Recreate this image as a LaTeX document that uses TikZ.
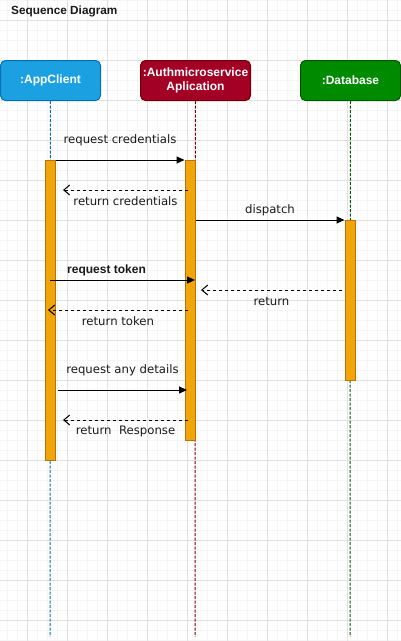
\documentclass[tikz,border=0pt]{standalone}
\usepackage{fontspec}
\setmainfont{DejaVu Sans}
\newfontfamily\helv{Liberation Sans}
\usepackage{tikz}
\usetikzlibrary{positioning,arrows.meta}
\definecolor{seqblue}{RGB}{27,161,226}
\definecolor{seqblueline}{RGB}{0,110,175}
\definecolor{seqred}{RGB}{162,0,37}
\definecolor{seqredline}{RGB}{111,0,0}
\definecolor{seqgreen}{RGB}{0,138,0}
\definecolor{seqgreenline}{RGB}{0,87,0}
\definecolor{seqorange}{RGB}{240,165,10}
\definecolor{seqorangeline}{RGB}{189,113,0}
\definecolor{gridminor}{RGB}{245,245,245}
\definecolor{gridmajor}{RGB}{224,224,224}
\definecolor{seqtext}{RGB}{26,26,26}

\begin{document}
\begin{tikzpicture}[x=1pt, y=-1pt,
    font=\fontsize{11.7}{14}\selectfont, text=seqtext,
    actor/.style={draw, rectangle, rounded corners=5pt, anchor=north west, minimum height=40pt,
        inner sep=0pt, line width=1pt, text=white, align=center,
        font=\helv\bfseries\fontsize{12}{13.7}\selectfont},
    lifeline/.style={line width=1pt, dash pattern=on 3pt off 1.5pt},
    activation/.style={draw=seqorangeline, fill=seqorange, line width=1pt, anchor=north,
        minimum width=10pt, inner sep=0pt},
    call/.style={line width=1pt, -{Triangle[length=8pt,width=7pt]}},
    reply/.style={line width=1pt, dash pattern=on 3pt off 3pt, -{Straight Barb[length=6pt,width=10pt]}},
    msglabel/.style={inner sep=0pt}
]
    % page and grid
    \fill[white] (0,0) rectangle (401,641);
    \useasboundingbox (0,0) rectangle (401,641);
    \foreach \gx in {7.5,17.5,...,400} \draw[gridminor, line width=1pt] (\gx,0) -- (\gx,641);
    \foreach \gy in {0.5,10.5,...,641} \draw[gridminor, line width=1pt] (0,\gy) -- (401,\gy);
    \foreach \gx in {27.5,67.5,...,400} \draw[gridmajor, line width=1pt] (\gx,0) -- (\gx,641);
    \foreach \gy in {20.5,60.5,...,641} \draw[gridmajor, line width=1pt] (0,\gy) -- (401,\gy);

    \node[anchor=west, inner sep=0pt, font=\helv\bfseries\fontsize{11.8}{13}\selectfont] (title) at (11,11) {Sequence Diagram};

    % participants
    \node[actor, fill=seqblue, draw=seqblueline, minimum width=100pt] (client) at (0,60) {:AppClient};
    \node[actor, fill=seqred, draw=seqredline, minimum width=110pt] (auth) at (140,60) {:Authmicroservice\\Aplication};
    \node[actor, fill=seqgreen, draw=seqgreenline, minimum width=100pt] (db) at (300,60) {:Database};

    \coordinate (clientend) at (50,637);
    \coordinate (authend) at (195,637);
    \coordinate (dbend) at (350,637);
    \draw[lifeline, seqblueline] (client.south) -- (clientend);
    \draw[lifeline, seqredline] (auth.south) -- (authend);
    \draw[lifeline, seqgreenline] (db.south) -- (dbend);

    % activation bars
    \node[activation, minimum height=300pt] (clientbar) at (50,160) {};
    \node[activation, minimum height=280pt] (authbar) at (190,160) {};
    \node[activation, minimum height=160pt] (dbbar) at (350,220) {};

    % messages
    \coordinate (credback) at (188,190);
    \coordinate (credto) at (63,190);
    \coordinate (tokfrom) at (50,280);
    \coordinate (tokto) at (195,280);
    \coordinate (retfrom) at (342,290);
    \coordinate (retto) at (201,290);
    \coordinate (tokback) at (188,310);
    \coordinate (tokbackto) at (48,310);
    \coordinate (detfrom) at (58,390);
    \coordinate (detto) at (187,390);
    \coordinate (resback) at (188,420);
    \coordinate (resto) at (63,420);

    \draw[call] (clientbar.north east) -- node[msglabel, yshift=20pt] (lblcred) {request credentials} (authbar.north west);
    \draw[reply] (credback) -- node[msglabel, yshift=-11pt] (lblcredret) {return credentials} (credto);
    \draw[call] (authbar.east |- dbbar.north) -- node[msglabel, yshift=10pt] (lbldisp) {dispatch} (dbbar.north west);
    \draw[call] (tokfrom) -- node[msglabel, pos=0.39, yshift=9.5pt, font=\helv\bfseries\fontsize{12}{14}\selectfont] (lbltok) {request token} (tokto);
    \draw[reply] (retfrom) -- node[msglabel, yshift=-11.5pt] (lblret) {return} (retto);
    \draw[reply] (tokback) -- node[msglabel, yshift=-11.5pt] (lbltokret) {return token} (tokbackto);
    \draw[call] (detfrom) -- node[msglabel, yshift=19.5pt] (lbldet) {request any details} (detto);
    \draw[reply] (resback) -- node[msglabel, yshift=-11.5pt] (lblres) {return\ \ Response} (resto);
\end{tikzpicture}
\end{document}
